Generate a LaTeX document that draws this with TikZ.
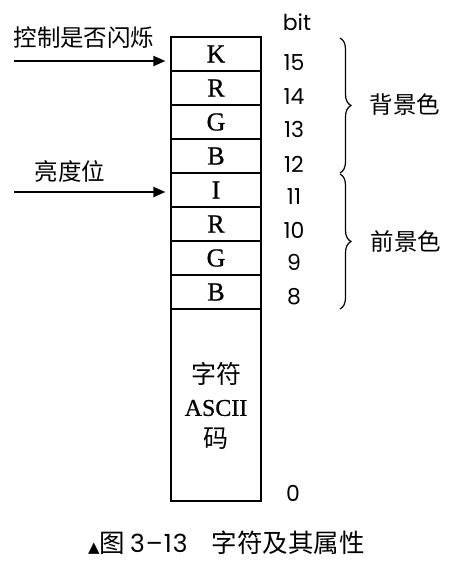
\documentclass[tikz,border=0pt]{standalone}
\usepackage{fontspec}
\setmainfont{Liberation Serif}
\newfontfamily\cellfont[FakeBold=0.8]{Liberation Serif}
\newfontfamily\cjk{Noto Sans CJK SC}
\newfontfamily\num{Poppins}
\newfontfamily\sym{DejaVu Sans}
\usetikzlibrary{arrows.meta,decorations.pathreplacing}
\begin{document}
\begin{tikzpicture}[x=1pt,y=-1pt,
  cell/.style={draw,line width=1.2pt,minimum width=90pt,minimum height=34pt,inner sep=0pt,
     font=\cellfont\fontsize{26}{26}\selectfont},
  numlbl/.style={font=\num\fontsize{22}{22}\selectfont,inner sep=0pt},
  cjklbl/.style={font=\cjk\fontsize{23.5}{23.5}\selectfont,inner sep=0pt},
  arr/.style={line width=2pt,-{Triangle[length=12pt,width=10pt]},shorten >=5pt},
  brc/.style={decorate,decoration={brace,amplitude=11pt},line width=1.2pt}]
\useasboundingbox (0,0) rectangle (455,566);
\node[cell] (r15) at (216,54) {K};
\node[cell] (r14) at (216,88) {R};
\node[cell] (r13) at (216,122) {G};
\node[cell] (r12) at (216,156) {B};
\node[cell] (r11) at (216,190) {I};
\node[cell] (r10) at (216,224) {R};
\node[cell] (r9) at (216,258) {G};
\node[cell] (r8) at (216,292) {B};
\node[cell,minimum height=192pt] (asc) at (216,405) {};
\node[cjklbl,font=\cjk\fontsize{25}{25}\selectfont] (t1) at (216,374) {字符};
\node[inner sep=0pt,font=\cellfont\fontsize{24}{24}\selectfont] (t2) at (216,408) {ASCII};
\node[cjklbl,font=\cjk\fontsize{25}{25}\selectfont] (t3) at (216,439) {码};
\node[numlbl] (bit) at (297,22) {bit};
\node[numlbl] (n15) at (294,63) {15};
\node[numlbl] (n14) at (294,97) {14};
\node[numlbl] (n13) at (294,129) {13};
\node[numlbl] (n12) at (294,164) {12};
\node[numlbl] (n11) at (294,197) {11};
\node[numlbl] (n10) at (294,230) {10};
\node[numlbl] (n9) at (294,262) {9};
\node[numlbl] (n8) at (294,297) {8};
\node[numlbl] (n0) at (293,493) {0};
\coordinate (b1t) at (340,38);
\coordinate (b1b) at (340,173);
\coordinate (b2t) at (340,174);
\coordinate (b2b) at (340,309);
\draw[brc] (b1t) -- (b1b);
\draw[brc] (b2t) -- (b2b);
\node[cjklbl] (bg) at (405,105) {背景色};
\node[cjklbl] (fg) at (406,242) {前景色};
\coordinate (a1) at (14,61);
\coordinate (a2) at (14,192);
\draw[arr] (a1) -- (a1 -| r15.west);
\draw[arr] (a2) -- (a2 -| r11.west);
\node[cjklbl] (l1) at (84,38) {控制是否闪烁};
\node[cjklbl] (l2) at (70,171) {亮度位};
\node[anchor=west,inner sep=0pt] (cap) at (88,543) {{\sym\fontsize{15}{15}\selectfont ▲}{\cjk\fontsize{25.5}{25.5}\selectfont 图}\hspace{5pt}{\num\fontsize{25}{25}\selectfont 3\hspace{1pt}–\hspace{1pt}1\hspace{1pt}3}\hspace{24pt}{\cjk\fontsize{25.5}{25.5}\selectfont 字符及其属性}};
\end{tikzpicture}
\end{document}
